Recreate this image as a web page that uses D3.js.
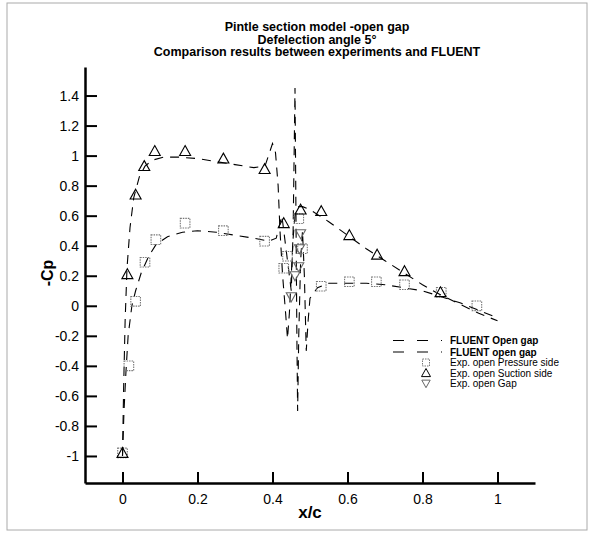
<!DOCTYPE html>
<html>
<head>
<meta charset="utf-8">
<script src="https://cdn.jsdelivr.net/npm/d3@7"></script>
<style>
  body { margin: 0; background: #fff; }
  svg { display: block; font-family: "Liberation Sans", Arial, sans-serif; }
</style>
</head>
<body>
<svg id="chart" width="595" height="541"></svg>
<script>
// chart data
var titleLines = ["Pintle section model -open gap", "Defelection angle 5\u00b0", "Comparison results between experiments and FLUENT"];
var xTicks = [0, 0.2, 0.4, 0.6, 0.8, 1];
var yTicks = [-1, -0.8, -0.6, -0.4, -0.2, 0, 0.2, 0.4, 0.6, 0.8, 1, 1.2, 1.4];

// FLUENT suction side
var fluentOpen = [[0,-1.0],[0.003,-0.55],[0.007,-0.1],[0.012,0.25],[0.02,0.52],[0.03,0.72],[0.045,0.86],[0.06,0.93],[0.08,0.97],[0.11,0.99],[0.15,0.99],[0.2,0.98],[0.25,0.96],[0.3,0.94],[0.35,0.92],[0.38,0.93],[0.392,1.02],[0.40,1.08],[0.408,1.02],[0.415,0.8],[0.42,0.5],[0.427,0.2],[0.435,-0.05],[0.44,-0.22],[0.445,-0.05],[0.45,0.2],[0.455,0.45],[0.46,0.6],[0.47,0.66],[0.48,0.66],[0.5,0.64],[0.55,0.56],[0.6,0.47],[0.65,0.38],[0.7,0.3],[0.75,0.22],[0.8,0.14],[0.85,0.07],[0.9,0.01],[0.95,-0.05],[1.0,-0.1]];
// FLUENT pressure side
var fluentGap = [[0,-1.0],[0.004,-0.7],[0.009,-0.45],[0.015,-0.2],[0.025,0.0],[0.035,0.1],[0.05,0.22],[0.07,0.33],[0.09,0.41],[0.12,0.46],[0.16,0.49],[0.2,0.5],[0.25,0.49],[0.3,0.47],[0.35,0.45],[0.39,0.43],[0.41,0.45],[0.42,0.55],[0.425,0.6],[0.43,0.5],[0.44,0.3],[0.45,0.1],[0.455,0.5],[0.46,1.45],[0.462,0.8],[0.465,-0.2],[0.467,-0.7],[0.47,-0.2],[0.475,0.3],[0.48,0.5],[0.485,0.2],[0.49,-0.3],[0.495,-0.1],[0.5,0.05],[0.52,0.12],[0.55,0.15],[0.6,0.15],[0.65,0.15],[0.7,0.14],[0.75,0.12],[0.8,0.1],[0.85,0.06],[0.9,0.02],[0.95,-0.03],[1.0,-0.08]];

var expPressure = [[0,-0.98],[0.017,-0.40],[0.035,0.03],[0.06,0.29],[0.089,0.44],[0.167,0.55],[0.269,0.50],[0.379,0.43],[0.43,0.25],[0.44,0.33],[0.47,0.58],[0.48,0.38],[0.53,0.13],[0.605,0.16],[0.677,0.16],[0.752,0.14],[0.85,0.09],[0.945,0.0]];
var expSuction = [[0,-0.98],[0.013,0.21],[0.035,0.74],[0.058,0.93],[0.086,1.03],[0.167,1.03],[0.269,0.98],[0.379,0.91],[0.43,0.55],[0.475,0.64],[0.53,0.63],[0.605,0.47],[0.679,0.34],[0.752,0.23],[0.848,0.09]];
var expGap = [[0.45,0.06],[0.46,0.2],[0.47,0.26],[0.472,0.38],[0.475,0.48]];

var legendLabels = ["FLUENT Open gap", "FLUENT open gap", "Exp. open Pressure side", "Exp. open Suction side", "Exp. open Gap"];

var svg = d3.select("#chart");

// page frame
svg.append("rect").attr("x", 7).attr("y", 3).attr("width", 580).attr("height", 527)
    .attr("fill", "none").attr("stroke", "#aaa").attr("stroke-width", 1);

var x = d3.scaleLinear().domain([-0.1, 1.1]).range([85, 535]);
var y = d3.scaleLinear().domain([-1.18, 1.59]).range([483, 67]);

// title
svg.append("g").selectAll("text").data(titleLines).enter().append("text")
    .attr("x", 317).attr("y", (d, i) => 31 + i * 12.5)
    .attr("text-anchor", "middle").attr("font-size", "12.5px").attr("font-weight", "bold")
    .text(d => d);

// axes, ticks pointing inward
var xAxis = svg.append("g").attr("transform", "translate(0," + y.range()[0] + ")")
    .call(d3.axisBottom(x).tickValues(xTicks).tickSizeInner(-11).tickSizeOuter(0).tickPadding(8).tickFormat(d => String(d)));
var yAxis = svg.append("g").attr("transform", "translate(" + x.range()[0] + ",0)")
    .call(d3.axisLeft(y).tickValues(yTicks).tickSizeInner(-12).tickSizeOuter(0).tickPadding(6).tickFormat(d => String(d)));
[xAxis, yAxis].forEach(function (g) {
    g.select(".domain").attr("stroke", "#000").attr("stroke-width", 2.5);
    g.selectAll(".tick line").attr("stroke", "#000").attr("stroke-width", 2);
    g.selectAll(".tick text").attr("font-size", "14px").attr("fill", "#000")
        .attr("font-family", "Liberation Sans, Arial, sans-serif");
});
xAxis.selectAll(".tick text").attr("dy", "0.9em");

svg.append("text").attr("x", 310).attr("y", 518).attr("text-anchor", "middle")
    .attr("font-size", "17px").attr("font-weight", "bold").text("x/c");
svg.append("text").attr("transform", "translate(53,273) rotate(-90)").attr("text-anchor", "middle")
    .attr("font-size", "16px").attr("font-weight", "bold").text("-Cp");

// FLUENT lines
var line = d3.line().x(d => x(d[0])).y(d => y(d[1]));
[fluentOpen, fluentGap].forEach(function (s) {
    svg.append("path").datum(s).attr("d", line)
        .attr("fill", "none").attr("stroke", "#000").attr("stroke-width", 1.1)
        .attr("stroke-dasharray", "9,7");
});

// markers
function sq(s) { return "M" + (-s) + "," + (-s) + "h" + 2 * s + "v" + 2 * s + "h" + (-2 * s) + "Z"; }
function triUp(s) { return "M0," + (-s) + "L" + s + "," + (s * 0.8) + "L" + (-s) + "," + (s * 0.8) + "Z"; }
function triDown(s) { return "M0," + s + "L" + s + "," + (-s * 0.8) + "L" + (-s) + "," + (-s * 0.8) + "Z"; }

function drawPts(data, shape, size, color, dash) {
    svg.append("g").selectAll("path").data(data).enter().append("path")
        .attr("transform", d => "translate(" + x(d[0]) + "," + y(d[1]) + ")")
        .attr("d", shape(size)).attr("fill", "none").attr("stroke", color)
        .attr("stroke-width", 1.1).attr("stroke-dasharray", dash);
}
drawPts(expPressure, sq, 4.8, "#777", "1.5,1");
drawPts(expSuction, triUp, 5.5, "#000", null);
drawPts(expGap, triDown, 5, "#666", null);

// legend
var legY = [340.5, 352, 362.5, 373, 383.5];
var leg = svg.append("g");
[0, 1].forEach(function (i) {
    leg.append("line").attr("x1", 393).attr("x2", 442).attr("y1", legY[i]).attr("y2", legY[i])
        .attr("stroke", "#000").attr("stroke-width", 1.1).attr("stroke-dasharray", "11,13");
});
leg.append("path").attr("transform", "translate(426," + legY[2] + ")").attr("d", sq(3.5))
    .attr("fill", "none").attr("stroke", "#777").attr("stroke-dasharray", "1.5,1");
leg.append("path").attr("transform", "translate(426," + legY[3] + ")").attr("d", triUp(4.5))
    .attr("fill", "none").attr("stroke", "#000");
leg.append("path").attr("transform", "translate(426," + legY[4] + ")").attr("d", triDown(4.2))
    .attr("fill", "none").attr("stroke", "#666");
leg.selectAll("text").data(legendLabels).enter().append("text")
    .attr("x", 450).attr("y", (d, i) => legY[i]).attr("dy", "0.35em")
    .attr("font-size", (d, i) => i < 2 ? "10px" : "10px")
    .attr("font-weight", (d, i) => i < 2 ? "bold" : "normal")
    .text(d => d);
</script>
</body>
</html>
